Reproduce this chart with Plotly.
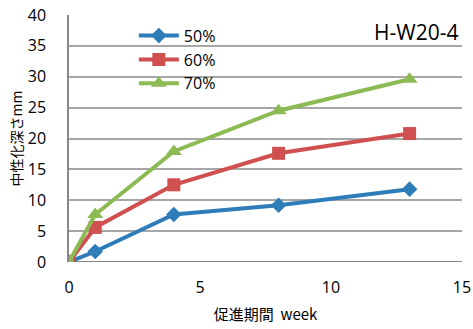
import plotly.graph_objects as go

weeks = [0, 1, 4, 8, 13]
s50 = [0, 1.7, 7.7, 9.2, 11.8]
s60 = [0, 5.6, 12.5, 17.6, 20.8]
s70 = [0, 7.7, 17.9, 24.5, 29.6]
names = ["50%", "60%", "70%"]
colors = ["#2E7DB8", "#D04F4F", "#8CBB54"]
symbols = ["diamond", "square", "triangle-up"]
msizes = [12, 13, 14]

fig = go.Figure()
for name, ys, c, sym, ms in zip(names, [s50, s60, s70], colors, symbols, msizes):
    fig.add_trace(go.Scatter(x=weeks, y=ys, name=name, mode="lines+markers",
                             line=dict(color=c, width=4),
                             marker=dict(symbol=sym, size=ms, color=c)))

font_tick = dict(family="Open Sans, Liberation Sans, sans-serif", size=16, color="#000")
fig.update_layout(
    width=473, height=329,
    margin=dict(l=69, r=11, t=15, b=67),
    paper_bgcolor="white", plot_bgcolor="white",
    showlegend=True,
    legend=dict(x=0.165, y=0.985, xanchor="left", yanchor="top",
                bgcolor="rgba(0,0,0,0)", itemwidth=40, tracegroupgap=0,
                font=dict(family="Open Sans, sans-serif", size=16, color="#000")),
    xaxis=dict(range=[0, 15], tickvals=[0, 5, 10, 15], showgrid=False,
               zeroline=False, showline=False, ticks="", automargin=False,
               ticklabelstandoff=14, tickfont=font_tick,
               title=dict(text="促進期間  week", standoff=12,
                          font=dict(family="Noto Sans CJK JP", size=15, color="#000"))),
    yaxis=dict(range=[0, 40], tickvals=[0, 5, 10, 15, 20, 25, 30, 35, 40],
               showgrid=True, gridcolor="#A6A6A6", gridwidth=1.5,
               zeroline=False, showline=True, linecolor="#888888", linewidth=1.5,
               ticks="", ticklabelstandoff=18, tickfont=font_tick, automargin=False,
               title=dict(text="中性化深さmm", standoff=2,
                          font=dict(family="Noto Sans CJK JP", size=14, color="#000"))),
    annotations=[dict(text="H-W20-4", xref="paper", yref="paper", x=0.995, y=0.93,
                      xanchor="right", yanchor="middle", showarrow=False,
                      font=dict(family="Open Sans, sans-serif", size=21, color="#000"))],
)
fig.add_shape(type="line", xref="paper", yref="y", x0=0, x1=1, y0=0, y1=0,
              line=dict(color="#888888", width=2), layer="below")
fig.write_html("out.html", config={"displayModeBar": False},
               post_script="document.body.style.margin='0';")
